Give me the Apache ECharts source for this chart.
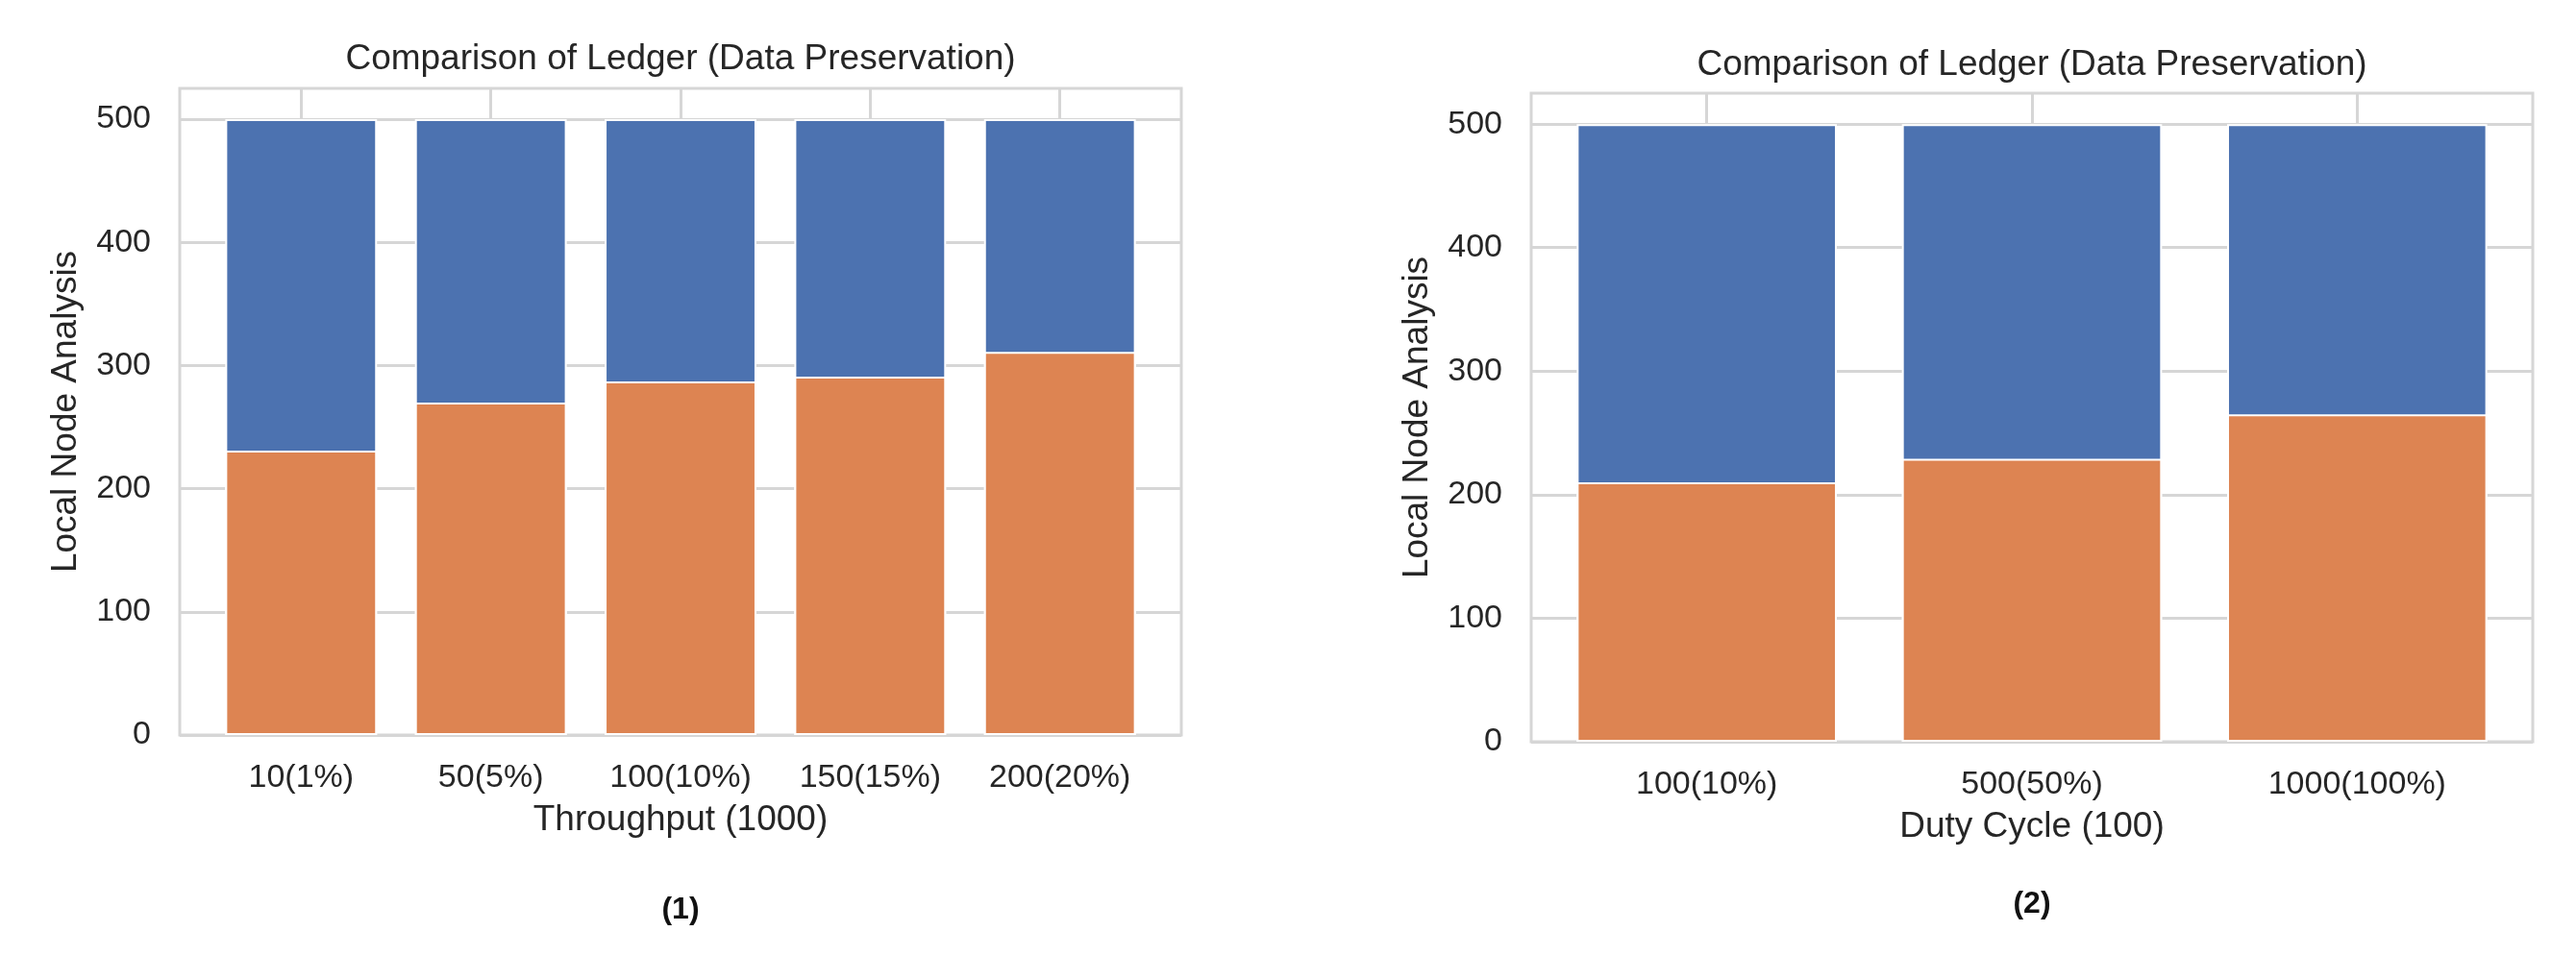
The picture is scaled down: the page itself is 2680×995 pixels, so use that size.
<!DOCTYPE html>
<html><head><meta charset="utf-8">
<script src="https://cdn.jsdelivr.net/npm/echarts@6/dist/echarts.min.js"></script>
<style>html,body{margin:0;padding:0;background:#fff}#c{width:2680px;height:995px}</style>
</head><body><div id="c"></div>
<script>
// ---- data ----
const titleText = 'Comparison of Ledger (Data Preservation)';
const yTicks = [0, 100, 200, 300, 400, 500];
const yLabel = 'Local Node Analysis';

const catsA = ['10(1%)', '50(5%)', '100(10%)', '150(15%)', '200(20%)'];
const lowerA = [231, 270, 287, 291, 311];   // orange (bottom)
const upperA = [269, 230, 213, 209, 189];   // blue (top)
const xNameA = 'Throughput (1000)';

const catsB = ['100(10%)', '500(50%)', '1000(100%)'];
const lowerB = [210, 229, 265];
const upperB = [290, 271, 235];
const xNameB = 'Duty Cycle (100)';

const captions = ['(1)', '(2)'];

// ---- style / layout ----
const FONT = '"Liberation Sans", Arial, sans-serif';
const TXT = '#262626';
const GRIDC = '#d6d6d6';
const BLUE = '#4c72b0';
const ORANGE = '#dd8452';

const panels = [
  { cats: catsA, lower: lowerA, upper: upperA, xName: xNameA, left: 187, top: 92, width: 1042, height: 673, titleY: 62, capY: 947 },
  { cats: catsB, lower: lowerB, upper: upperB, xName: xNameB, left: 1593, top: 97, width: 1042, height: 675, titleY: 68, capY: 941 }
];

const grid = [], xAxis = [], yAxis = [], series = [], graphic = [];
panels.forEach((p, i) => {
  const n = p.cats.length;
  const margin = 0.05 * (n - 0.2);
  const xmin = -0.4 - margin, xmax = n - 1 + 0.4 + margin;
  const barW = 0.8 * p.width / (xmax - xmin);
  const idx = p.cats.map((c, k) => k);

  grid.push({ left: p.left, top: p.top, width: p.width, height: p.height, show: true,
    borderColor: GRIDC, borderWidth: 3, backgroundColor: 'transparent', containLabel: false });

  xAxis.push({
    type: 'value', gridIndex: i, min: xmin, max: xmax,
    name: p.xName, nameLocation: 'middle', nameGap: 70,
    nameTextStyle: { fontSize: 37, color: TXT, fontFamily: FONT },
    axisLine: { show: false },
    axisTick: { show: false, customValues: idx },
    axisLabel: { customValues: idx, formatter: v => p.cats[Math.round(v)], fontSize: 34, color: TXT, fontFamily: FONT, margin: 28 },
    splitLine: { show: true, lineStyle: { color: GRIDC, width: 3 } }
  });

  yAxis.push({
    type: 'value', gridIndex: i, min: 0, max: 525,
    name: yLabel, nameLocation: 'middle', nameGap: 100,
    nameTextStyle: { fontSize: 37, color: TXT, fontFamily: FONT },
    axisLine: { show: false },
    axisTick: { show: false, customValues: yTicks },
    axisLabel: { customValues: yTicks, fontSize: 34, color: TXT, fontFamily: FONT, margin: 30 },
    splitLine: { show: true, lineStyle: { color: GRIDC, width: 3 } }
  });

  series.push({
    type: 'bar', xAxisIndex: i, yAxisIndex: i, barWidth: barW, barGap: '-100%',
    data: idx.map(k => [k, p.lower[k] + p.upper[k]]),
    itemStyle: { color: BLUE, borderColor: '#ffffff', borderWidth: 2 },
    z: 2, silent: true
  });
  series.push({
    type: 'bar', xAxisIndex: i, yAxisIndex: i, barWidth: barW, barGap: '-100%',
    data: idx.map(k => [k, p.lower[k]]),
    itemStyle: { color: ORANGE, borderColor: '#ffffff', borderWidth: 2 },
    z: 3, silent: true
  });

  const cx = p.left + p.width / 2;
  graphic.push({ type: 'text', x: cx, y: p.titleY,
    style: { text: titleText, fontSize: 37, fill: TXT, fontFamily: FONT, align: 'center', verticalAlign: 'middle' } });
  graphic.push({ type: 'text', x: cx, y: p.capY,
    style: { text: captions[i], fontSize: 32, fontWeight: 'bold', fill: '#111', fontFamily: FONT, align: 'center', verticalAlign: 'middle' } });
});

const chart = echarts.init(document.getElementById('c'), null, { renderer: 'canvas' });
chart.setOption({ animation: false, backgroundColor: '#ffffff', grid, xAxis, yAxis, series, graphic });
</script>
</body></html>
